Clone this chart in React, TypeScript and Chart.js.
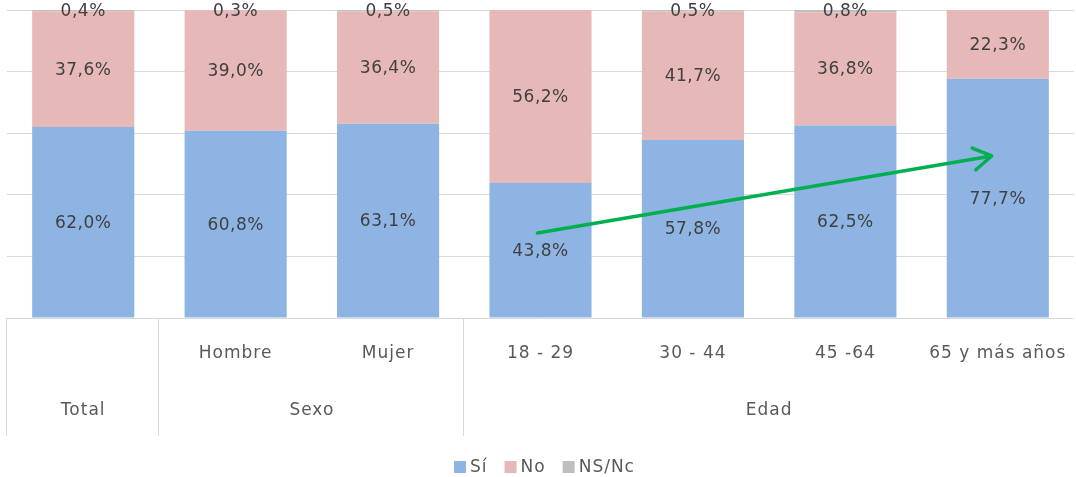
import React, { useEffect, useRef } from "react";
import { Chart, registerables } from "chart.js";

Chart.register(...registerables);

// ---- Data ----
const categories = ["Total", "Hombre", "Mujer", "18 - 29", "30 - 44", "45 -64", "65 y más años"];
const tickLabels = ["", "Hombre", "Mujer", "18 - 29", "30 - 44", "45 -64", "65 y más años"];
const groupLabels = ["Total", "Sexo", "Edad"];
const groupStarts = [0, 1, 3];
const groupEnds = [0, 2, 6];
const seriesNames = ["Sí", "No", "NS/Nc"];
const siValues = [62.0, 60.8, 63.1, 43.8, 57.8, 62.5, 77.7];
const noValues = [37.6, 39.0, 36.4, 56.2, 41.7, 36.8, 22.3];
const nsValues = [0.4, 0.3, 0.5, 0, 0.5, 0.8, 0];
const yTickValues = [0, 20, 40, 60, 80, 100];
// Trend arrow, in data units (category index, percent)
const arrowFrom = [2.98, 27.6];
const arrowTo = [5.96, 52.6];

const COLORS = ["#8EB4E3", "#E6B9B8", "#BFBFBF"];
const FONT = '"DejaVu Sans", sans-serif';

const fmt = (v: number) => v.toFixed(1).replace(".", ",") + "%";

const overlayPlugin = {
  id: "overlay",
  afterDatasetsDraw(chart: any) {
    const ctx: CanvasRenderingContext2D = chart.ctx;
    const xs = chart.scales.x;
    const ys = chart.scales.y;
    ctx.save();

    // Data labels
    (ctx as any).letterSpacing = "0.5px";
    ctx.font = `17px ${FONT}`;
    ctx.fillStyle = "#404040";
    ctx.textAlign = "center";
    ctx.textBaseline = "middle";
    chart.data.datasets.forEach((ds: any, di: number) => {
      const meta = chart.getDatasetMeta(di);
      meta.data.forEach((el: any, i: number) => {
        const v = ds.data[i];
        if (!v) return;
        const cy = (el.y + el.base) / 2;
        ctx.fillText(fmt(v), el.x, cy + 1);
      });
    });

    // Trend arrow
    const x1 = xs.getPixelForValue(arrowFrom[0]);
    const y1 = ys.getPixelForValue(arrowFrom[1]);
    const x2 = xs.getPixelForValue(arrowTo[0]);
    const y2 = ys.getPixelForValue(arrowTo[1]);
    const ang = Math.atan2(y2 - y1, x2 - x1);
    ctx.strokeStyle = "#00B050";
    ctx.lineWidth = 3.5;
    ctx.lineCap = "round";
    ctx.lineJoin = "round";
    ctx.beginPath();
    ctx.moveTo(x1, y1);
    ctx.lineTo(x2 - 1.5 * Math.cos(ang), y2 - 1.5 * Math.sin(ang));
    ctx.stroke();
    const hl = 21;
    const ha = 0.55;
    ctx.beginPath();
    ctx.moveTo(x2 - hl * Math.cos(ang - ha), y2 - hl * Math.sin(ang - ha));
    ctx.lineTo(x2, y2);
    ctx.lineTo(x2 - hl * Math.cos(ang + ha), y2 - hl * Math.sin(ang + ha));
    ctx.stroke();

    // Multi-level category table
    const bottom = ys.bottom;
    ctx.strokeStyle = "#D9D9D9";
    ctx.lineWidth = 1;
    ctx.lineCap = "butt";
    groupStarts.forEach((s) => {
      const px = Math.round(xs.getPixelForValue(s - 0.5)) - 0.5;
      ctx.beginPath();
      ctx.moveTo(px, bottom);
      ctx.lineTo(px, bottom + 118);
      ctx.stroke();
    });
    (ctx as any).letterSpacing = "1px";
    ctx.font = `17px ${FONT}`;
    ctx.fillStyle = "#595959";
    tickLabels.forEach((t, i) => {
      if (!t) return;
      ctx.fillText(t, xs.getPixelForValue(i), bottom + 36);
    });
    groupLabels.forEach((g, k) => {
      const cx = (xs.getPixelForValue(groupStarts[k]) + xs.getPixelForValue(groupEnds[k])) / 2;
      ctx.fillText(g, cx, bottom + 93);
    });

    // Legend
    const box = 12;
    const gapText = 4;
    const gapItem = 17;
    const widths = seriesNames.map((n) => box + gapText + ctx.measureText(n).width);
    const total = widths.reduce((a, b) => a + b, 0) + gapItem * (seriesNames.length - 1);
    let lx = (chart.chartArea.left + chart.chartArea.right) / 2 - total / 2 + 4;
    const ly = 467;
    ctx.textAlign = "left";
    seriesNames.forEach((n, i) => {
      ctx.fillStyle = COLORS[i];
      ctx.fillRect(lx, ly - box / 2, box, box);
      ctx.fillStyle = "#595959";
      ctx.fillText(n, lx + box + gapText, ly + 1);
      lx += widths[i] + gapItem;
    });

    ctx.restore();
  },
};

export default function App() {
  const ref = useRef<HTMLCanvasElement>(null);
  useEffect(() => {
    document.body.style.margin = "0";
    const chart = new Chart(ref.current as HTMLCanvasElement, {
      type: "bar",
      data: {
        labels: categories,
        datasets: [
          { label: seriesNames[0], data: siValues, backgroundColor: COLORS[0] },
          { label: seriesNames[1], data: noValues, backgroundColor: COLORS[1] },
          { label: seriesNames[2], data: nsValues, backgroundColor: COLORS[2] },
        ],
      },
      options: {
        animation: false,
        responsive: false,
        devicePixelRatio: 1,
        layout: { padding: { top: 10, left: 7, right: 2, bottom: 0 } },
        datasets: { bar: { categoryPercentage: 1, barPercentage: 0.67 } },
        plugins: { legend: { display: false }, tooltip: { enabled: false } },
        scales: {
          x: {
            stacked: true,
            ticks: { display: false },
            grid: { display: false },
            border: { display: false },
            afterFit: (s: any) => {
              s.height = 159;
            },
          },
          y: {
            stacked: true,
            min: 0,
            max: 100,
            afterBuildTicks: (s: any) => {
              s.ticks = yTickValues.map((v) => ({ value: v }));
            },
            ticks: { display: false },
            grid: { color: "#D9D9D9", lineWidth: 1, drawTicks: false },
            border: { display: false },
            afterFit: (s: any) => {
              s.width = 0;
            },
          },
        },
      },
      plugins: [overlayPlugin],
    });
    return () => chart.destroy();
  }, []);
  return (
    <div style={{ position: "absolute", left: 0, top: 0, width: 1076, height: 477 }}>
      <canvas ref={ref} width={1076} height={477} />
    </div>
  );
}
